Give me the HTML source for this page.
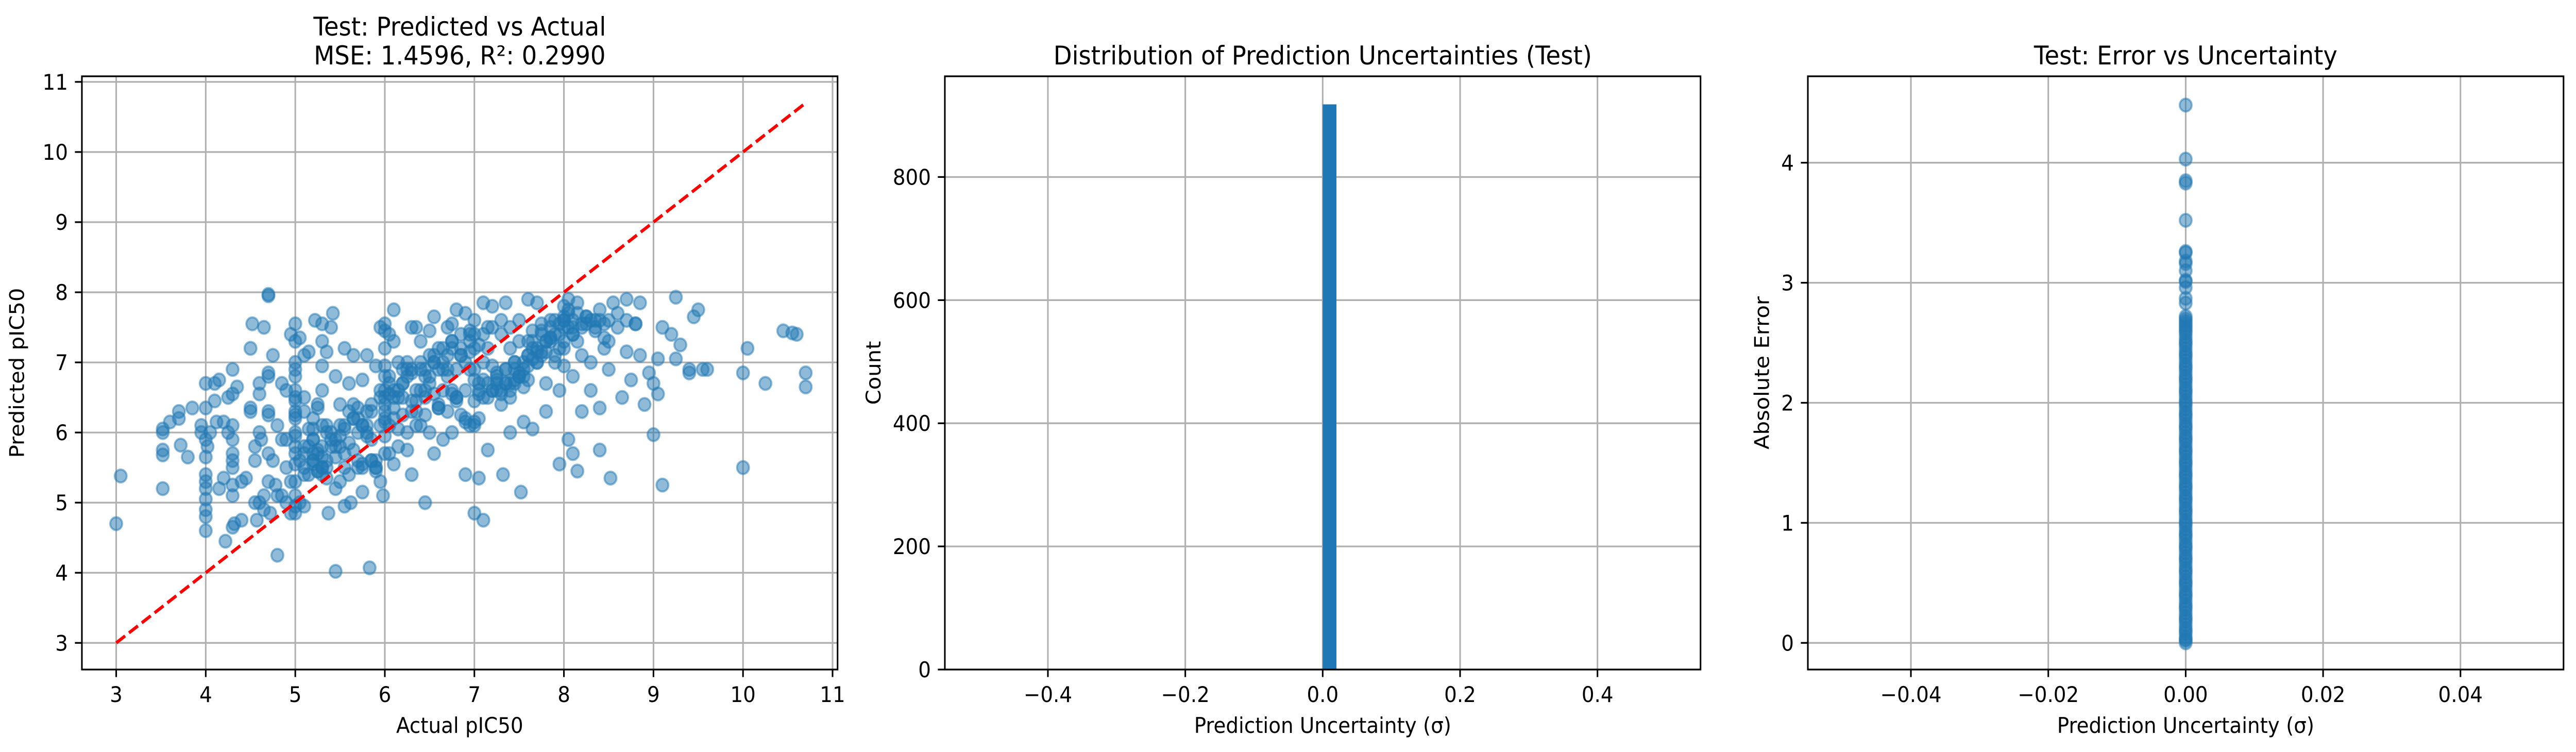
<!DOCTYPE html>
<html><head><meta charset="utf-8"><style>
html,body{margin:0;padding:0;background:#fff;width:100%;height:100%;overflow:hidden;}
svg{display:block;width:100vw;height:100vh;font-family:"DejaVu Sans","Liberation Sans",sans-serif;}
</style></head><body>
<svg id="fig" viewBox="0 0 5369 1459" preserveAspectRatio="none" xmlns="http://www.w3.org/2000/svg">
<rect width="5369" height="1459" fill="#fff"/>
<g id="p1"></g>
<g id="p2"></g>
<g id="p3"></g>
</svg>
<script>
// ---- Panel 1 data: actual vs predicted pIC50 ----
const actualX = [3,3.05,3.52,3.52,3.52,3.52,3.52,3.6,3.7,3.7,3.72,3.8,3.85,3.95,3.95,4,4,4,4,4,4,4,4,4,4,4,4.02,4.05,4.1,4.1,4.15,4.12,4.15,4.2,4.2,4.22,4.25,4.25,4.3,4.3,4.3,4.3,4.3,4.3,4.3,4.3,4.3,4.3,4.32,4.35,4.4,4.4,4.45,4.5,4.5,4.5,4.52,4.55,4.55,4.55,4.57,4.6,4.6,4.62,4.65,4.65,4.7,4.7,4.7,4.7,4.7,4.7,4.7,4.7,4.72,4.75,4.78,4.8,4.8,4.85,4.85,4.9,4.95,5,5,5,5,5,5,5,5,5,5,5,5,5,5,5.05,5.1,5.1,5.1,5.1,5.15,5.2,5.2,5.2,5.22,5.25,5.25,5.3,5.3,5.3,5.3,5.3,5.35,5.35,5.35,5.37,5.4,5.42,5.45,5.45,5.5,5.5,5.5,5.55,5.55,5.6,5.6,5.62,5.65,5.7,5.7,5.75,5.75,5.75,5.8,5.8,5.83,5.85,5.9,5.9,5.95,5.95,5.98,6,6,6,6,6,6,6.05,6.05,6.1,6.1,6.1,6.1,6.15,6.15,6.2,6.2,6.25,6.25,6.3,6.3,6.3,6.35,6.4,6.4,6.45,6.45,6.5,6.5,6.5,6.55,6.55,6.6,6.6,6.65,6.7,6.7,6.75,6.75,6.75,6.8,6.8,6.85,6.85,6.9,6.9,6.9,6.95,6.95,7,7,7,7.05,7.05,7.1,7.1,7.1,7.15,7.15,7.2,7.2,7.25,7.3,7.3,7.32,7.35,7.4,7.4,7.4,7.45,7.5,7.5,7.52,7.55,7.6,7.6,7.6,7.65,7.7,7.7,7.75,7.8,7.8,7.85,7.9,7.95,7.95,8,8,8,8.05,8.05,8.1,8.1,8.1,8.15,8.15,8.2,8.2,8.25,8.3,8.35,8.4,8.4,8.4,8.45,8.5,8.5,8.52,8.55,8.6,8.65,8.7,8.7,8.75,8.8,8.85,8.85,8.9,8.95,9,9,9.05,9.05,9.1,9.1,9.2,9.25,9.25,9.3,9.4,9.4,9.45,9.5,9.55,9.6,10,10,10.05,10.25,10.45,10.55,10.6,10.7,10.7,
4.9,4.9,5.0,5.1,5.2,5.25,5.3,5.4,5.45,5.5,5.55,5.6,5.65,5.7,5.8,5.85,5.9,5.95,6.0,6.05,6.1,6.2,6.25,6.3,6.35,6.4,6.45,6.5,6.55,6.6,6.65,6.7,6.75,6.8,6.85,6.9,6.95,7.0,7.05,7.1,7.15,7.2,7.25,7.3,7.35,7.4,7.45,7.5,7.55,7.6,7.65,7.7,7.75,7.8,7.85,7.9,8.0,8.05,8.1,8.2,
5.05,5.15,5.25,5.35,5.45,5.55,5.65,5.75,5.85,5.95,6.05,6.15,6.25,6.35,6.45,6.55,6.65,6.75,6.85,6.95,7.05,7.15,7.25,7.35,7.45,7.55,7.65,7.75,7.85,7.95,
4.6,4.75,4.85,4.95,5.1,5.2,5.3,5.4,5.5,5.6,5.7,5.8,5.9,6.0,6.1,6.2,6.3,6.4,6.5,6.6,6.7,6.8,6.9,7.0,7.1,7.2,7.3,7.4,7.5,7.6,7.7,7.8,7.9,8.0,8.1,8.3,
5.0,5.0,5.0,5.0,5.0,6.0,6.0,6.0,6.0,6.0,7.0,7.0,7.0,7.0,8.0,8.0,8.0,5.1,5.2,5.3,5.2,5.25,5.3,5.35,5.4,5.1,5.15,5.2,5.3,5.45,5.55,5.65,5.7,5.75,5.8,5.85,5.9,6.05,6.1,6.15,6.2,6.3,6.35,6.4,6.45,6.55,6.6,6.65,6.7,6.75,6.8,6.9,6.95,7.05,7.1,7.2,7.25,7.3,7.35,7.4,7.45,7.5,7.55,7.6,7.65,7.7,7.75,7.8,7.85,7.9,7.95,8.05,8.1,8.15,8.2,8.25,8.3,8.35,8.4,8.45,8.5,8.6,8.7,8.8,
4.6,4.65,4.8,4.9,4.95,5.05,5.15,5.25,5.35,5.45,5.55,5.65,5.75,5.85,5.95,6.05,6.15,6.25,6.35,6.45,6.55,6.65,6.75,6.85,6.95,7.05,7.15,7.25,7.35,7.45,7.55,7.65,7.75,7.85,7.95,8.05,8.15,8.25,8.35,8.45];
const predictedY = [4.7,5.38,6.05,6.0,5.75,5.68,5.2,6.15,6.3,6.2,5.82,5.65,6.35,6.1,6.0,6.7,6.35,5.9,5.65,5.4,5.3,5.2,5.05,4.9,4.8,4.6,5.8,6.0,6.45,6.7,6.75,6.15,5.2,6.15,5.35,4.45,6.5,6.0,6.9,6.55,6.1,5.9,5.7,5.6,5.5,5.25,5.1,4.65,4.7,6.65,4.75,5.3,5.35,6.35,6.3,7.2,7.55,5.8,5.6,5.0,4.75,6.7,6.55,5.9,7.5,5.1,7.95,7.97,6.85,6.8,6.3,6.25,5.7,5.3,4.85,7.1,5.25,4.25,6.1,6.7,5.1,6.6,7.4,7.55,7.3,7.0,6.8,6.6,6.5,6.2,6.0,5.8,5.55,5.3,5.1,4.95,4.85,7.35,7.1,6.5,5.4,4.95,7.15,6.2,5.9,5.6,7.6,6.35,5.75,7.55,7.3,6.95,6.6,5.5,7.15,6.1,5.35,4.85,7.5,7.7,6.8,4.02,6.4,5.95,5.3,7.2,4.95,6.7,5.85,5.0,7.1,6.2,6.0,6.75,5.55,5.15,7.1,6.3,4.07,5.9,6.95,5.45,7.5,6.1,5.1,7.55,7.2,6.8,6.5,6.3,5.7,7.4,6.1,7.75,7.3,6.6,5.55,7.0,5.8,6.9,6.25,7.0,5.75,7.5,6.45,5.4,7.5,7.3,6.1,6.6,5.0,7.45,6.8,6.0,7.65,5.7,7.2,6.35,5.9,7.5,6.8,7.55,7.2,6.0,7.75,6.5,7.1,6.25,7.7,6.6,5.4,7.45,6.1,7.4,6.9,4.85,7.25,5.35,7.85,6.5,4.75,7.5,5.75,7.8,6.95,6.7,7.4,6.4,5.4,7.85,7.2,6.6,6.0,7.0,7.6,6.8,5.15,6.15,7.9,7.3,6.75,6.05,7.85,7.0,7.55,6.7,6.3,7.5,7.0,6.6,5.55,7.8,7.5,7.2,7.9,5.9,7.4,6.8,5.7,7.85,5.45,7.1,6.3,7.65,6.6,7.5,7.75,6.35,5.75,7.2,7.6,6.9,5.35,7.85,7.5,6.5,7.9,7.15,6.75,7.55,7.85,7.1,6.4,6.85,6.7,5.97,7.05,6.55,7.5,5.25,7.4,7.05,7.93,7.25,6.9,6.85,7.65,7.75,6.9,6.9,6.85,5.5,7.2,6.7,7.45,7.42,7.4,6.85,6.65,
5.9,5.5,6.3,5.8,5.6,6.4,5.5,5.9,5.2,6.1,5.7,5.4,6.2,5.5,6.0,6.3,5.6,6.6,6.2,6.8,6.5,6.7,6.9,6.3,6.1,6.6,6.8,6.7,7.0,6.9,7.2,7.1,7.3,6.9,7.4,7.0,7.3,7.2,6.7,7.0,6.7,6.6,6.8,6.6,6.9,6.7,6.7,6.8,6.9,7.1,7.3,7.2,7.4,7.3,7.6,7.4,7.6,7.7,7.6,7.5,
5.6,5.8,5.7,6.0,5.8,6.1,6.2,6.1,6.4,6.5,6.7,6.5,6.8,6.6,6.9,7.1,7.0,7.3,7.2,7.4,6.6,6.5,6.6,6.7,6.9,7.0,7.2,7.1,7.3,7.4,
6.0,5.6,5.9,5.3,5.5,5.7,5.4,6.0,5.8,6.3,5.6,6.1,5.5,6.4,6.2,6.7,6.9,7.0,7.1,6.4,6.3,6.5,6.2,6.1,7.4,7.5,7.6,7.5,7.3,7.1,7.0,7.3,7.1,7.6,7.5,7.0,
5.7,5.95,6.25,6.45,6.9,5.95,6.15,6.6,6.95,7.45,6.15,6.45,6.75,7.6,6.95,7.3,7.65,5.7,5.55,5.8,6.05,5.45,5.65,5.6,5.8,6.3,6.05,5.9,6.1,5.65,5.5,5.75,6.35,6.1,5.95,5.6,5.5,6.55,6.35,6.05,6.5,6.85,6.45,6.9,6.25,6.55,6.35,6.6,6.9,6.55,6.45,6.15,6.9,6.2,6.75,6.6,6.85,6.55,6.7,6.5,6.75,6.85,6.65,6.95,7.05,7.15,7.45,7.15,7.35,7.6,7.55,7.5,7.4,7.7,7.55,7.65,7.6,7.45,7.6,7.55,7.3,7.7,7.6,7.55,
5.0,4.9,5.1,5.0,4.85,5.0,5.4,5.45,5.5,5.9,6.05,6.4,5.5,5.6,5.3,5.7,6.6,6.0,6.3,6.5,7.0,6.9,6.6,7.1,7.15,6.55,7.2,6.75,6.9,7.0,6.8,7.45,7.15,7.35,7.2,7.75,7.3,7.55,7.6,7.35];

// ---- Panel 2 data: histogram of uncertainties ----
const binEdges = [0.0, 0.02];
const binCounts = [918];

// ---- Panel 3 data: absolute error vs uncertainty ----
const absErrors = [4.48,4.03,3.85,3.83,3.52,3.26,3.25,3.18,3.16,3.1,3.02,3.01,2.96,2.87,2.83,2.72,2.7,2.68,2.66,2.64,2.62,2.6,2.58,2.55,2.52,2.5,2.48,2.45,2.42,2.4,2.38,2.35,2.32,2.3,2.28,2.25,2.22,2.2,2.18,2.15,2.12,2.1,2.08,2.05,2.02,2.0,1.98,1.95,1.92,1.9,1.88,1.85,1.82,1.8,1.78,1.75,1.72,1.7,1.68,1.65,1.62,1.6,1.58,1.55,1.52,1.5,1.48,1.45,1.42,1.4,1.38,1.35,1.32,1.3,1.28,1.25,1.22,1.2,1.18,1.15,1.12,1.1,1.08,1.05,1.02,1.0,0.98,0.95,0.92,0.9,0.88,0.85,0.82,0.8,0.78,0.75,0.72,0.7,0.68,0.65,0.62,0.6,0.58,0.55,0.52,0.5,0.48,0.45,0.42,0.4,0.38,0.35,0.32,0.3,0.28,0.25,0.22,0.2,0.18,0.15,0.12,0.1,0.08,0.05,0.03,0.02,0.0];
const sigmaVals = absErrors.map(()=>0);

// tick labels
const p1XTicks = [3,4,5,6,7,8,9,10,11];
const p1YTicks = [3,4,5,6,7,8,9,10,11];
const p2XTicks = [-0.4,-0.2,0.0,0.2,0.4];
const p2XLabels = ["\u22120.4","\u22120.2","0.0","0.2","0.4"];
const p2YTicks = [0,200,400,600,800];
const p3XTicks = [-0.04,-0.02,0.0,0.02,0.04];
const p3XLabels = ["\u22120.04","\u22120.02","0.00","0.02","0.04"];
const p3YTicks = [0,1,2,3,4];

const NS="http://www.w3.org/2000/svg";
function mk(parent,tag,attrs,text){const e=document.createElementNS(NS,tag);for(const k in attrs)e.setAttribute(k,attrs[k]);if(text!==undefined)e.textContent=text;parent.appendChild(e);return e;}
function scale(d0,d1,r0,r1){return v=>r0+(v-d0)*(r1-r0)/(d1-d0);}

const TOP=148,BOT=1299,W=1575;
function axes(g,left,xd,yd,xt,xl,yt,yl,title,xlabel,ylabel,ylabX){
  const sx=scale(xd[0],xd[1],left,left+W), sy=scale(yd[0],yd[1],BOT,TOP);
  const grid=mk(g,'g',{});
  
  
  xt.forEach((v,i)=>{const x=sx(v);
    mk(grid,'line',{x1:x,x2:x,y1:TOP,y2:BOT,stroke:'#b0b0b0','stroke-width':3.3});
    mk(g,'line',{x1:x,x2:x,y1:BOT,y2:BOT+14.6,stroke:'#000','stroke-width':3.3});
    const t=mk(g,'text',{x:x,y:1362,'text-anchor':'middle','font-size':41.7},xl[i]);
    
    
  });
  yt.forEach((v,i)=>{const y=sy(v);
    mk(grid,'line',{x1:left,x2:left+W,y1:y,y2:y,stroke:'#b0b0b0','stroke-width':3.3});
    mk(g,'line',{x1:left-14.6,x2:left,y1:y,y2:y,stroke:'#000','stroke-width':3.3});
    const t=mk(g,'text',{x:left-29,y:y+15,'text-anchor':'end','font-size':41.7},yl[i]);
    
    
  });
  const marks=mk(g,'g',{});
  
  
  const fr=mk(g,'rect',{x:left,y:TOP,width:W,height:BOT-TOP,fill:'none',stroke:'#000','stroke-width':3.3});
  
  
  const cx=left+W/2;
  title.forEach((s,i)=>{
    const t=mk(g,'text',{x:cx,y:(title.length==2?(i==0?69:125):125),'text-anchor':'middle','font-size':50},s);
    
    
  });
  const xlab=mk(g,'text',{x:cx,y:1422,'text-anchor':'middle','font-size':41.7},xlabel);
  
  
  const ycy=(TOP+BOT)/2;
  const ylab=mk(g,'text',{x:ylabX,y:ycy,'text-anchor':'middle','font-size':41.7,transform:`rotate(-90 ${ylabX} ${ycy})`,'dominant-baseline':'central'},ylabel);
  
  
  return {sx,sy,marks};
}

// Panel 1
(function(){
  const g=document.getElementById('p1');
  const a=axes(g,170.7,[2.617,11.056],[2.62,11.08],p1XTicks,p1XTicks.map(String),p1YTicks,p1YTicks.map(String),
    ['Test: Predicted vs Actual','MSE: 1.4596, R\u00b2: 0.2990'],'Actual pIC50','Predicted pIC50',36);
  actualX.forEach((x,i)=>{
    const c=mk(a.marks,'circle',{cx:a.sx(x),cy:a.sy(predictedY[i]),r:12.5,fill:'#1f77b4','fill-opacity':0.5,stroke:'#1f77b4','stroke-opacity':0.5,'stroke-width':4});
    
    
  });
  const ln=mk(a.marks,'line',{x1:a.sx(3),y1:a.sy(3),x2:a.sx(10.7),y2:a.sy(10.7),stroke:'#ff0000','stroke-width':6.25,'stroke-dasharray':'23 10'});
  
  
})();

// Panel 2
(function(){
  const g=document.getElementById('p2');
  const a=axes(g,1969.3,[-0.55,0.55],[0,963.6],p2XTicks,p2XLabels,p2YTicks,p2YTicks.map(String),
    ['Distribution of Prediction Uncertainties (Test)'],'Prediction Uncertainty (\u03c3)','Count',1821);
  binCounts.forEach((c,i)=>{
    const x0=a.sx(binEdges[i]),x1=a.sx(binEdges[i+1]);
    const r=mk(a.marks,'rect',{x:x0,y:a.sy(c),width:x1-x0,height:a.sy(0)-a.sy(c),fill:'#1f77b4'});
    
    
  });
})();

// Panel 3
(function(){
  const g=document.getElementById('p3');
  const a=axes(g,3768,[-0.055,0.055],[-0.222,4.72],p3XTicks,p3XLabels,p3YTicks,p3YTicks.map(String),
    ['Test: Error vs Uncertainty'],'Prediction Uncertainty (\u03c3)','Absolute Error',3673);
  absErrors.forEach((e,i)=>{
    const c=mk(a.marks,'circle',{cx:a.sx(sigmaVals[i]),cy:a.sy(e),r:12.5,fill:'#1f77b4','fill-opacity':0.5,stroke:'#1f77b4','stroke-opacity':0.5,'stroke-width':4});
    
    
  });
})();
</script>
</body></html>
